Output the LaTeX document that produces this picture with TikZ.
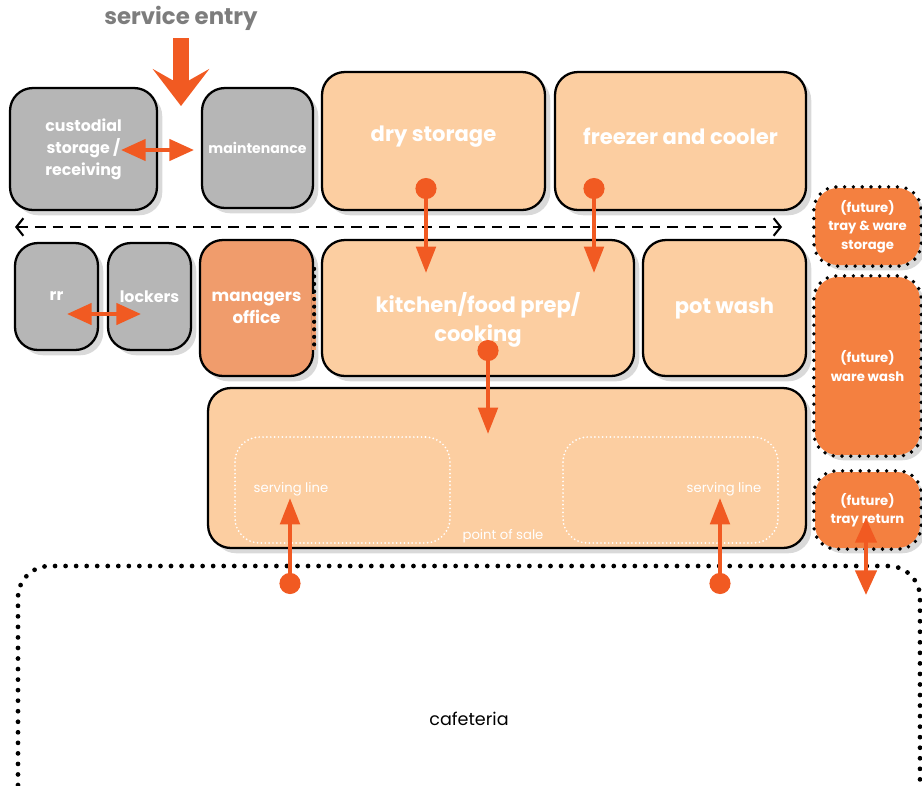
\documentclass[tikz,border=0pt]{standalone}
\usepackage{fontspec}
\setmainfont{Poppins}
\usetikzlibrary{arrows.meta,shadows}

\definecolor{boxgray}{RGB}{182,182,182}
\definecolor{peach}{RGB}{252,206,161}
\definecolor{mgrfill}{RGB}{240,156,108}
\definecolor{futfill}{RGB}{244,128,64}
\definecolor{flowred}{RGB}{241,90,34}
\definecolor{titlegray}{RGB}{125,125,125}

\tikzset{
    room/.style={draw=black, line width=1.3pt, rounded corners=13pt, text=white, align=center,
        font=\bfseries, drop shadow={shadow xshift=3pt, shadow yshift=-3pt, opacity=0.3}},
    roomtext/.style={text=white, align=center, font=\bfseries\fontsize{12}{16.5}\selectfont},
    dotline/.style={draw=black, line width=2.4pt, line cap=round, dash pattern=on 0pt off 5pt},
    flow/.style={draw=flowred, line width=2.3pt, arrows={Circle[length=12pt]-Triangle[length=15pt,width=11pt]}},
    twoway/.style={draw=flowred, line width=2.3pt, arrows={Triangle[length=14pt,width=12pt]-Triangle[length=14pt,width=12pt]}}
}

\begin{document}
\begin{tikzpicture}[x=0.02cm, y=-0.02cm]
    \useasboundingbox (0,0) rectangle (922,785);

    % gray rooms
    \begin{scope}[every node/.style={room, fill=boxgray}]
        \node[minimum width=2.94cm, minimum height=2.44cm, font=\bfseries\fontsize{9}{12.5}\selectfont] (cust) at (83.5,149) {custodial\\storage /\\receiving};
        \node[minimum width=2.22cm, minimum height=2.40cm, font=\bfseries\fontsize{8}{10}\selectfont] (maint) at (257.5,148) {maintenance};
        \node[minimum width=1.66cm, minimum height=2.14cm, font=\bfseries\fontsize{9}{11}\selectfont] (rr) at (56.5,296.5) {rr};
        \node[minimum width=1.66cm, minimum height=2.14cm, font=\bfseries\fontsize{9}{11}\selectfont] (lockers) at (149.5,296.5) {lockers};
    \end{scope}

    % kitchen rooms
    \begin{scope}[every node/.style={room, fill=peach, font=\bfseries\fontsize{12}{16.5}\selectfont}]
        \node[minimum width=4.46cm, minimum height=2.76cm] (dry) at (433.5,141) {};
        \node[minimum width=5.02cm, minimum height=2.76cm] (freezer) at (680.5,141) {};
        \node[minimum width=6.24cm, minimum height=2.72cm] (kitchen) at (478,308) {};
        \node[minimum width=3.26cm, minimum height=2.72cm] (potwash) at (724.5,308) {pot wash};
        \node[minimum width=11.96cm, minimum height=3.2cm] (pos) at (507,468) {};
        \node[fill=mgrfill, minimum width=2.26cm, minimum height=2.72cm, font=\bfseries\fontsize{9.5}{12.5}\selectfont] (mgr) at (256.5,308) {managers\\office};
    \end{scope}
    \node[roomtext] (dry-t) at (433.5,137) {dry storage};
    \node[roomtext] (freezer-t) at (680.5,136) {freezer and cooler};
    \node[roomtext] (kitchen-t) at (478,320) {kitchen/food prep/\\cooking};
    \draw[mgrfill, line width=2pt] ([yshift=-1.1cm]mgr.north east) -- ([yshift=0.55cm]mgr.south east);
    \draw[dotline, dash pattern=on 0pt off 4.3pt] ([yshift=-0.6cm]mgr.north east) -- ([yshift=0.6cm]mgr.south east);

    % serving lines
    \begin{scope}[every node/.style={draw=white, line width=1.1pt, line cap=round, dash pattern=on 0pt off 2.2pt, rounded corners=14pt, minimum width=4.3cm, minimum height=2.12cm}]
        \node (serve1) at (342.5,490) {};
        \node (serve2) at (670.5,490) {};
    \end{scope}
    \begin{scope}[every node/.style={text=white, font=\fontsize{7.5}{9}\selectfont}]
        \node (serve1-t) at (291,489) {serving line};
        \node (serve2-t) at (724,489) {serving line};
        \node (pos-t) at (503,536) {point of sale};
    \end{scope}

    % future rooms
    \begin{scope}[every node/.style={room, draw=none, fill=futfill, font=\bfseries\fontsize{7.5}{10.5}\selectfont}]
        \node[minimum width=2.1cm, minimum height=1.54cm] (traystor) at (867.5,226.5) {(future)\\tray \& ware\\storage};
        \node[minimum width=2.1cm, minimum height=3.56cm] (warewash) at (867.5,366) {(future)\\ware wash};
        \node[minimum width=2.1cm, minimum height=1.52cm] (trayret) at (867.5,510) {(future)\\tray return};
    \end{scope}
    \foreach \n in {traystor, warewash, trayret}
        \draw[dotline, line width=2.2pt, rounded corners=13pt] (\n.north west) rectangle (\n.south east);

    % cafeteria
    \draw[dotline, line width=2.7pt, dash pattern=on 0pt off 6pt, rounded corners=18pt] (18,785) -- (18,566) -- (920,566) -- (920,785);
    \node[font=\fontsize{10}{12}\selectfont] (cafe) at (469,719) {cafeteria};

    % service entry
    \node[text=titlegray, font=\bfseries\fontsize{13}{15}\selectfont] (entry) at (181,18) {service entry};
    \coordinate (entry-a) at (181,38);
    \coordinate (entry-b) at (181,106);
    \draw[flowred, line width=9pt, -{Stealth[length=21pt,width=32pt,inset=9pt]}] (entry-a) -- (entry-b);

    % circulation
    \coordinate (hall-w) at (15,227);
    \coordinate (hall-e) at (782,227);
    \draw[black, line width=1.2pt, dash pattern=on 6pt off 4pt, {Straight Barb[length=4pt,width=10pt]}-{Straight Barb[length=4pt,width=10pt]}] (hall-w) -- (hall-e);

    % flows
    \coordinate (dry-out) at (426,178);
    \coordinate (kit-in1) at (426,273);
    \coordinate (frz-out) at (594,178);
    \coordinate (kit-in2) at (594,273);
    \coordinate (kit-out) at (488,340);
    \coordinate (pos-in) at (488,434);
    \coordinate (cafe-1) at (290,594);
    \coordinate (serve1-in) at (290,498);
    \coordinate (cafe-2) at (720,594);
    \coordinate (serve2-in) at (720,498);
    \draw[flow] (dry-out) -- (kit-in1);
    \draw[flow] (frz-out) -- (kit-in2);
    \draw[flow] (kit-out) -- (pos-in);
    \draw[flow] (cafe-1) -- (serve1-in);
    \draw[flow] (cafe-2) -- (serve2-in);

    \coordinate (cust-in) at (121,150);
    \coordinate (maint-in) at (194,150);
    \coordinate (rr-in) at (67,314);
    \coordinate (lock-in) at (141,314);
    \coordinate (ret-in) at (866,518);
    \coordinate (ret-out) at (866,595);
    \draw[twoway] (cust-in) -- (maint-in);
    \draw[twoway] (rr-in) -- (lock-in);
    \draw[twoway] (ret-in) -- (ret-out);
\end{tikzpicture}
\end{document}
